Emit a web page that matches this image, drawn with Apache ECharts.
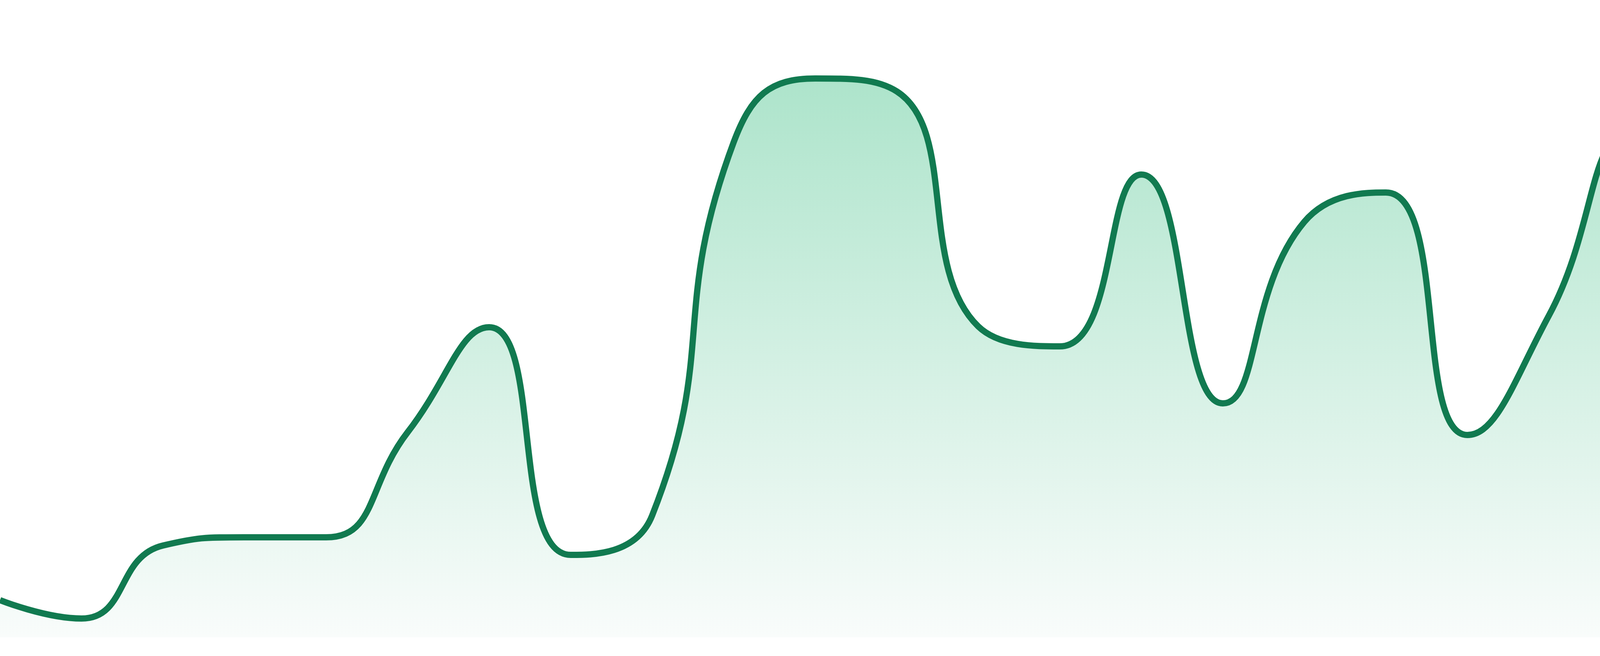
<!DOCTYPE html>
<html>
<head>
<meta charset="utf-8">
<script src="https://cdn.jsdelivr.net/npm/echarts@6/dist/echarts.min.js"></script>
<style>
  html, body { margin: 0; padding: 0; background: #fff; }
  #chart { width: 4800px; height: 1680px; }
</style>
</head>
<body>
<div id="chart"></div>
<script>
// 数据：24 个点，等间距
var categories = ['1', '2', '3', '4', '5', '6', '7', '8', '9', '10', '11', '12',
    '13', '14', '15', '16', '17', '18', '19', '20', '21', '22', '23', '24'];
var values = [9.5, 4.8, 23.5, 25.6, 25.6, 52.5, 79.4, 21.1, 31.2, 126.8, 143.1, 139.8,
    79.6, 74.5, 118.5, 59.9, 106.4, 113.9, 51.8, 82.4, 129.2, 84.2, 71.1, 122.0];
var yMin = 0;
var yMax = 163.2;

var myChart = echarts.init(document.getElementById('chart'));

var option = {
    animation: false,
    grid: {
        left: 0,
        right: 0,
        top: 0,
        bottom: 48
    },
    xAxis: {
        type: 'category',
        boundaryGap: false,
        data: categories,
        show: false
    },
    yAxis: {
        type: 'value',
        min: yMin,
        max: yMax,
        show: false
    },
    series: [
        {
            type: 'line',
            data: values,
            smooth: true,
            showSymbol: false,
            lineStyle: {
                color: '#117a50',
                width: 16
            },
            areaStyle: {
                opacity: 1,
                color: new echarts.graphic.LinearGradient(0, 0, 0, 1, [
                    {offset: 0, color: '#ade4cb'},
                    {offset: 1, color: '#f9fcfb'}
                ])
            }
        }
    ]
};

myChart.setOption(option);
</script>
</body>
</html>
